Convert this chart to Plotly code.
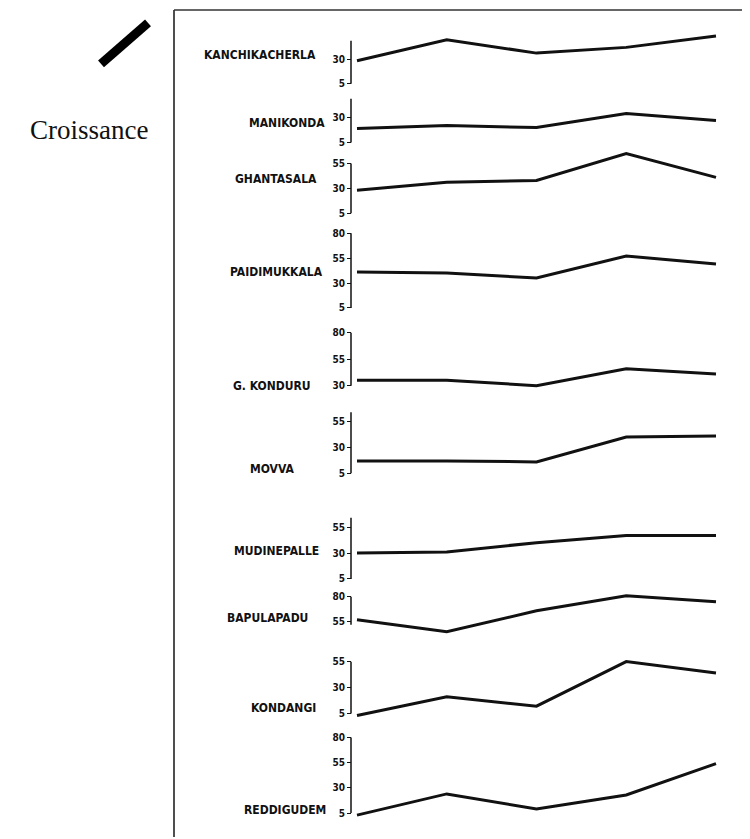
import plotly.graph_objects as go

# page body has an 8px margin: the figure occupies 8..750 x 8..839
OFF = 8
W, H = 750 - OFF, 839 - OFF

# ---------------- data ----------------
periods = [1, 2, 3, 4, 5]

villages = ["KANCHIKACHERLA", "MANIKONDA", "GHANTASALA", "PAIDIMUKKALA",
            "G. KONDURU", "MOVVA", "MUDINEPALLE", "BAPULAPADU",
            "KONDANGI", "REDDIGUDEM"]

kanchikacherla = [29, 51, 37, 43, 55]
manikonda = [19, 22, 20, 34, 27]
ghantasala = [28, 36, 38, 65, 41]
paidimukkala = [41, 40, 35, 57, 49]
g_konduru = [35, 35, 30, 46, 41]
movva = [17, 17, 16, 40, 41]
mudinepalle = [30, 31, 40, 47, 47]
bapulapadu = [57, 45, 66, 81, 75]
kondangi = [3, 21, 12, 55, 44]
reddigudem = [3, 24, 9, 23, 54]

series = [kanchikacherla, manikonda, ghantasala, paidimukkala, g_konduru,
          movva, mudinepalle, bapulapadu, kondangi, reddigudem]

tick_values = [[5, 30], [5, 30], [5, 30, 55], [5, 30, 55, 80], [30, 55, 80],
               [5, 30, 55], [5, 30, 55], [55, 80], [5, 30, 55], [5, 30, 55, 80]]
axis_extent = [[5, 50], [5, 49], [5, 55], [5, 80], [30, 80],
               [5, 64], [5, 64], [52, 80], [5, 55], [5, 80]]

legend_label = "Croissance"

# ---------------- layout (page pixels) ----------------
base_px = [83, 142, 213, 308, 386, 474, 580, 623, 715, 815]   # pixel of lowest tick
px_per_unit = [0.96, 1.0, 1.0, 1.0, 1.06, 1.04, 1.04, 1.0, 1.04, 1.013]
label_x_px = [260, 287, 276, 276, 272, 272, 276, 267, 283, 285]
label_y_px = [54, 122, 179, 272, 386, 470, 552, 619, 710, 812]
axis_x_px = 351
x_first_px, x_last_px = 357, 716


def px(x):
    return (x - OFF) / W


def py(y):
    return 1 - (y - OFF) / H


font_names = dict(family="DejaVu Sans Condensed, DejaVu Sans", size=12,
                  color="#111", weight="bold")
font_ticks = dict(family="DejaVu Sans Condensed, DejaVu Sans", size=10,
                  color="#111", weight="bold")

fig = go.Figure()

# x axis mapping (page pixels -> data)
sx = (x_last_px - x_first_px) / (periods[-1] - periods[0])
xa = periods[0] - (x_first_px - OFF) / sx
xb = xa + W / sx
layout = dict(
    width=W, height=H,
    margin=dict(l=0, r=0, t=0, b=0),
    paper_bgcolor="white", plot_bgcolor="rgba(0,0,0,0)",
    showlegend=False,
    xaxis=dict(domain=[0, 1], range=[xa, xb], visible=False, fixedrange=True),
)

shapes = []
annotations = []

for i, vals in enumerate(series):
    n = i + 1
    yname = "yaxis" if n == 1 else f"yaxis{n}"
    yref = "y" if n == 1 else f"y{n}"
    vb = tick_values[i][0]
    s = px_per_unit[i]
    top_v = max(max(vals), axis_extent[i][1]) + 4
    bot_v = min(min(vals), axis_extent[i][0]) - 4
    p_top = base_px[i] - s * (top_v - vb)
    p_bot = base_px[i] - s * (bot_v - vb)
    layout[yname] = dict(
        domain=[py(p_bot), py(p_top)],
        range=[bot_v, top_v],
        anchor="free", position=px(axis_x_px), side="left",
        showline=False, showgrid=False, zeroline=False,
        tickmode="array", tickvals=tick_values[i],
        ticktext=[str(t) for t in tick_values[i]],
        ticks="outside", ticklen=4, tickwidth=1.4, tickcolor="#111",
        tickfont=font_ticks, fixedrange=True,
    )
    fig.add_trace(go.Scatter(
        x=periods, y=vals, mode="lines", xaxis="x", yaxis=yref,
        line=dict(color="#111", width=3), hoverinfo="skip",
    ))
    shapes.append(dict(type="line", xref="paper", yref=yref,
                       x0=px(axis_x_px), x1=px(axis_x_px),
                       y0=axis_extent[i][0], y1=axis_extent[i][1],
                       line=dict(color="#111", width=1.5)))
    annotations.append(dict(text=villages[i], xref="paper", yref="paper",
                            x=px(label_x_px[i]), y=py(label_y_px[i]),
                            xanchor="center", yanchor="middle",
                            showarrow=False, font=font_names))

# frame
shapes.append(dict(type="line", xref="paper", yref="paper",
                   x0=px(174), x1=px(174), y0=py(9), y1=0,
                   line=dict(color="#222", width=1.6)))
shapes.append(dict(type="line", xref="paper", yref="paper",
                   x0=px(174), x1=1, y0=py(9), y1=py(9),
                   line=dict(color="#333", width=1.6)))
# legend glyph
shapes.append(dict(type="line", xref="paper", yref="paper",
                   x0=px(101), y0=py(63), x1=px(148), y1=py(22),
                   line=dict(color="#000", width=9)))
annotations.append(dict(text=legend_label, xref="paper", yref="paper",
                        x=px(89), y=py(129), xanchor="center", yanchor="middle",
                        showarrow=False,
                        font=dict(family="Liberation Serif, Times New Roman, serif",
                                  size=27, color="#111")))

layout["shapes"] = shapes
layout["annotations"] = annotations
fig.update_layout(**layout)
fig.write_html("out.html")
